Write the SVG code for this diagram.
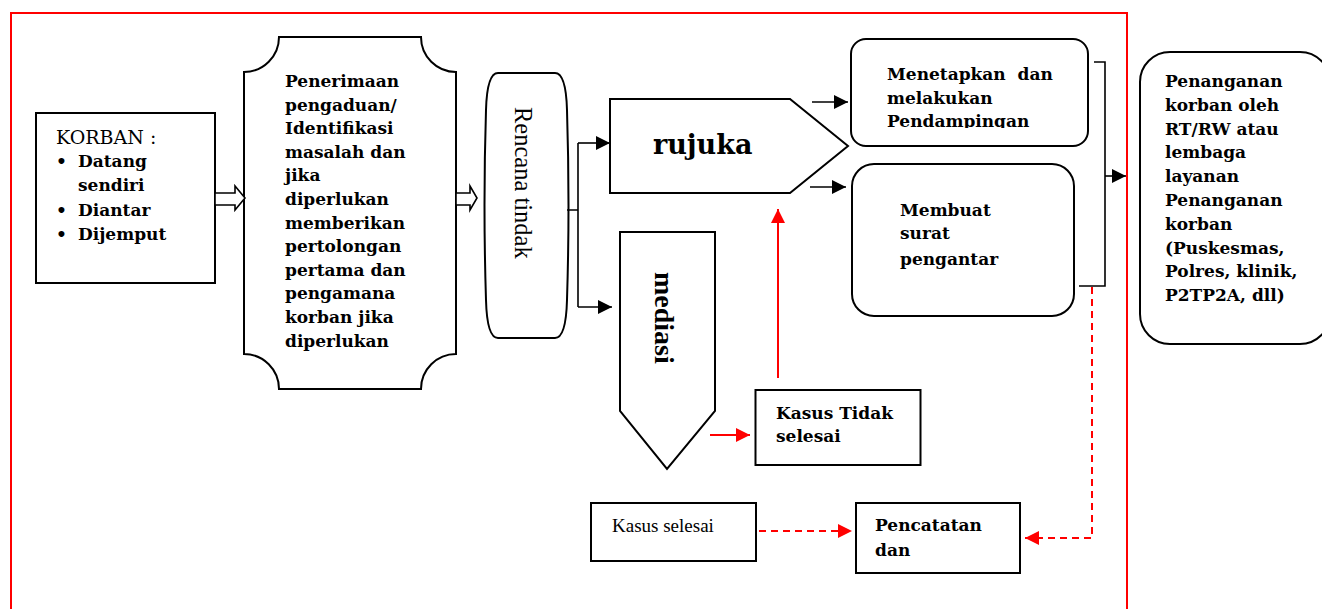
<svg xmlns="http://www.w3.org/2000/svg" width="1322" height="609" viewBox="0 0 1322 609">
<style>
.n{fill:#fff;stroke:#000;stroke-width:2}
.b{font-family:"DejaVu Serif","Liberation Serif",serif;font-weight:bold;font-size:17px;fill:#000}
.r{font-family:"Liberation Serif",serif;font-size:19px;fill:#000}
.k{fill:none;stroke:#000;stroke-width:1.6}
.red{fill:none;stroke:#f00;stroke-width:2}
.dash{fill:none;stroke:#f00;stroke-width:2;stroke-dasharray:7 5}
</style>
<defs>
<marker id="ah" viewBox="0 0 14 14" refX="14" refY="7" markerWidth="14" markerHeight="14" orient="auto" markerUnits="userSpaceOnUse"><path d="M0,0 L14,7 L0,14 Z" fill="#000"/></marker>
<marker id="ahr" viewBox="0 0 14 14" refX="14" refY="7" markerWidth="14" markerHeight="14" orient="auto" markerUnits="userSpaceOnUse"><path d="M0,0 L14,7 L0,14 Z" fill="#f00"/></marker>
<clipPath id="clipM"><rect x="851" y="39" width="237" height="89"/></clipPath>
</defs>
<rect x="11" y="13" width="1116" height="620" fill="none" stroke="#f00" stroke-width="2"/>

<g id="korban">
<rect class="n" x="36" y="113" width="179" height="170"/>
<text x="56" y="144" font-family="DejaVu Serif,serif" font-size="19px">KORBAN :</text>
<text class="b" x="56" y="167">•</text><text class="b" x="78" y="167">Datang</text>
<text class="b" x="78" y="191">sendiri</text>
<text class="b" x="56" y="216">•</text><text class="b" x="78" y="216">Diantar</text>
<text class="b" x="56" y="240">•</text><text class="b" x="78" y="240">Dijemput</text>
</g>

<g id="penerimaan">
<path class="n" d="M279,37 L421,37 A35,35 0 0 0 456,72 L456,354 A35,35 0 0 0 421,389 L279,389 A35,35 0 0 0 244,354 L244,72 A35,35 0 0 0 279,37 Z"/>
<text class="b" x="285" y="87">Penerimaan</text>
<text class="b" x="285" y="110.6">pengaduan/</text>
<text class="b" x="285" y="134.2">Identifikasi</text>
<text class="b" x="285" y="157.8">masalah dan</text>
<text class="b" x="285" y="181.4">jika</text>
<text class="b" x="285" y="205">diperlukan</text>
<text class="b" x="285" y="228.6">memberikan</text>
<text class="b" x="285" y="252.2">pertolongan</text>
<text class="b" x="285" y="275.8">pertama dan</text>
<text class="b" x="285" y="299.4">pengamana</text>
<text class="b" x="285" y="323">korban jika</text>
<text class="b" x="285" y="346.6">diperlukan</text>
</g>

<g id="rencana">
<path class="n" d="M498,73 L555,73 Q566,73 567,110 Q570,205 567,300 Q566,338 555,338 L498,338 Q487,338 486,300 Q483,205 486,110 Q487,73 498,73 Z"/>
<text transform="translate(515,107) rotate(90)" font-family="Liberation Serif,serif" font-size="24.5px">Rencana tindak</text>
</g>

<g id="rujuka">
<polygon class="n" points="610,99 790,99 848,146 790,193 610,193"/>
<text x="653" y="154" font-family="DejaVu Serif,serif" font-weight="bold" font-size="27px">rujuka</text>
</g>

<g id="mediasi">
<polygon class="n" points="620,232 715,232 715,411 667,469 620,411"/>
<text transform="translate(655,272) rotate(90)" font-family="Liberation Serif,serif" font-weight="bold" font-size="28px">mediasi</text>
</g>

<g id="kasus-tidak">
<rect class="n" x="755.5" y="390" width="165" height="75"/>
<text class="b" x="776" y="419">Kasus Tidak</text>
<text class="b" x="776" y="442">selesai</text>
</g>

<g id="menetapkan">
<rect class="n" x="851" y="39" width="237" height="107" rx="15"/>
<g clip-path="url(#clipM)">
<text class="b" x="887" y="80" xml:space="preserve">Menetapkan  dan</text>
<text class="b" x="887" y="103.5">melakukan</text>
<text class="b" x="887" y="127">Pendampingan</text>
</g>
</g>

<g id="membuat">
<rect class="n" x="852" y="164" width="222" height="152" rx="22"/>
<text class="b" x="900" y="215.5">Membuat</text>
<text class="b" x="900" y="239">surat</text>
<text class="b" x="900" y="265">pengantar</text>
</g>

<g id="penanganan">
<rect class="n" x="1140" y="52" width="190" height="292" rx="30"/>
<text class="b" x="1165" y="87">Penanganan</text>
<text class="b" x="1165" y="110.8">korban oleh</text>
<text class="b" x="1165" y="134.6">RT/RW atau</text>
<text class="b" x="1165" y="158.4">lembaga</text>
<text class="b" x="1165" y="182.2">layanan</text>
<text class="b" x="1165" y="206">Penanganan</text>
<text class="b" x="1165" y="229.8">korban</text>
<text class="b" x="1165" y="253.6">(Puskesmas,</text>
<text class="b" x="1165" y="277.4">Polres, klinik,</text>
<text class="b" x="1165" y="301.2">P2TP2A, dll)</text>
</g>

<g id="kasus-selesai">
<rect class="n" x="591" y="503" width="165" height="58"/>
<text class="r" x="612" y="531.5">Kasus selesai</text>
</g>

<g id="pencatatan">
<rect class="n" x="856" y="503" width="164" height="70"/>
<text class="b" x="875" y="531">Pencatatan</text>
<text class="b" x="875" y="556">dan</text>
</g>

<g id="connectors">
<path d="M215,193 L235,193 L235,186 L245,198 L235,210 L235,205 L215,205 Z" fill="#fff" stroke="#000" stroke-width="1.6"/>
<path d="M456,193 L470,193 L470,186 L477,198 L470,210 L470,205 L456,205 Z" fill="#fff" stroke="#000" stroke-width="1.6"/>
<path class="k" d="M567,210 H578 M578,143 V307"/>
<path class="k" d="M578,143 H610" marker-end="url(#ah)"/>
<path class="k" d="M578,307 H612" marker-end="url(#ah)"/>
<path class="k" d="M812,102 H848" marker-end="url(#ah)"/>
<path class="k" d="M810,187 H846" marker-end="url(#ah)"/>
<path class="k" d="M1094,62 H1105 V286 H1079"/>
<path class="k" d="M1105,176 H1126" marker-end="url(#ah)"/>
<path class="red" d="M710,435 H750" marker-end="url(#ahr)"/>
<path class="red" d="M778,378 V209" marker-end="url(#ahr)"/>
<path class="dash" d="M759,531 H852" marker-end="url(#ahr)"/>
<path class="dash" d="M1092,287 V538 H1025" marker-end="url(#ahr)"/>
</g>
</svg>
